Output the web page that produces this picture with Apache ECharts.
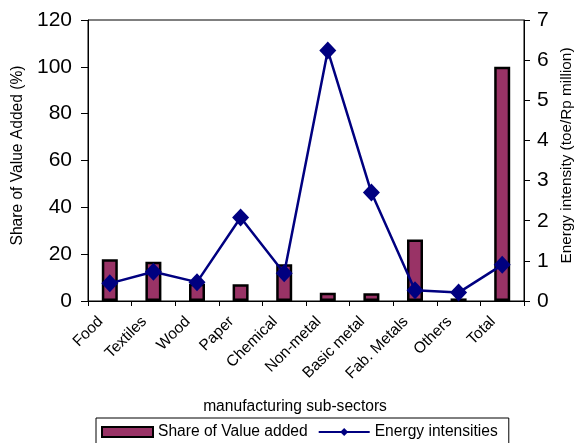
<!DOCTYPE html>
<html>
<head>
<meta charset="utf-8">
<script src="https://cdn.jsdelivr.net/npm/echarts@6/dist/echarts.min.js"></script>
<style>
  html, body { margin: 0; padding: 0; background: #fff; }
  #chart { width: 576px; height: 443px; }
</style>
</head>
<body>
<div id="chart"></div>
<script>
// Manufacturing sub-sectors: share of value added vs. energy intensity
const categories = ['Food', 'Textiles', 'Wood', 'Paper', 'Chemical', 'Non-metal', 'Basic metal', 'Fab. Metals', 'Others', 'Total'];
const shareValueAdded = [17.8, 16.8, 7.4, 7.1, 15.7, 3.5, 3.3, 26.3, 1.1, 100];
const energyIntensity = [0.44, 0.73, 0.47, 2.08, 0.69, 6.24, 2.70, 0.27, 0.21, 0.90];
const leftTicks = { min: 0, max: 120, interval: 20 };
const rightTicks = { min: 0, max: 7, interval: 1 };

const font = 'Arial, "Liberation Sans", sans-serif';
const chart = echarts.init(document.getElementById('chart'));

chart.setOption({
  animation: false,
  textStyle: { fontFamily: font, color: '#000' },
  grid: {
    left: 88, right: 52, top: 20, bottom: 142,
    outerBoundsMode: 'none',
    containLabel: false,
    show: true, borderColor: '#000', borderWidth: 1
  },
  legend: {
    top: 418,
    left: 96,
    itemGap: 10,
    itemWidth: 51,
    itemHeight: 10,
    padding: [6, 11, 6, 5],
    borderColor: '#000',
    borderWidth: 1,
    borderRadius: 0,
    textStyle: { fontFamily: font, fontSize: 15.6, color: '#000' },
    data: [
      { name: 'Share of Value added', icon: 'rect' },
      { name: 'Energy intensities' }
    ]
  },
  xAxis: {
    type: 'category',
    data: categories,
    boundaryGap: true,
    name: 'manufacturing sub-sectors',
    nameLocation: 'middle',
    nameGap: 98,
    nameTextStyle: { fontSize: 15.6, color: '#000', padding: [0, 22, 0, 0] },
    axisLine: { lineStyle: { color: '#000', width: 1 } },
    axisTick: { show: true, length: 5, lineStyle: { color: '#000' } },
    axisLabel: { rotate: 45, fontSize: 15.5, color: '#000', margin: 9, padding: [0, 13, 0, 0] }
  },
  yAxis: [
    {
      type: 'value',
      min: leftTicks.min, max: leftTicks.max, interval: leftTicks.interval,
      name: 'Share of Value Added (%)',
      nameLocation: 'middle',
      nameRotate: 90,
      nameGap: 61,
      nameTextStyle: { fontSize: 15.6, color: '#000', padding: [0, 0, 0, 10] },
      axisLine: { show: true, lineStyle: { color: '#000' } },
      axisTick: { show: true, length: 7, lineStyle: { color: '#000' } },
      axisLabel: { fontSize: 21, color: '#000', margin: 16 },
      splitLine: { show: false }
    },
    {
      type: 'value',
      position: 'right',
      min: rightTicks.min, max: rightTicks.max, interval: rightTicks.interval,
      name: 'Energy intensity (toe/Rp million)',
      nameLocation: 'middle',
      nameRotate: 90,
      nameGap: 44,
      nameTextStyle: { fontSize: 15.3, color: '#000', verticalAlign: 'bottom', padding: [0, 0, 0, 10] },
      axisLine: { show: true, lineStyle: { color: '#000' } },
      axisTick: { show: true, length: 6, lineStyle: { color: '#000' } },
      axisLabel: { fontSize: 21, color: '#000', margin: 13 },
      splitLine: { show: false }
    }
  ],
  series: [
    {
      name: 'Share of Value added',
      type: 'bar',
      yAxisIndex: 0,
      data: shareValueAdded,
      barWidth: 16,
      itemStyle: { color: '#993366', borderColor: '#000', borderWidth: 2.5 }
    },
    {
      name: 'Energy intensities',
      type: 'line',
      yAxisIndex: 1,
      data: energyIntensity,
      symbol: 'diamond',
      symbolSize: [17, 18],
      lineStyle: { color: '#000080', width: 2.5 },
      itemStyle: { color: '#000080' }
    }
  ]
});
</script>
</body>
</html>
